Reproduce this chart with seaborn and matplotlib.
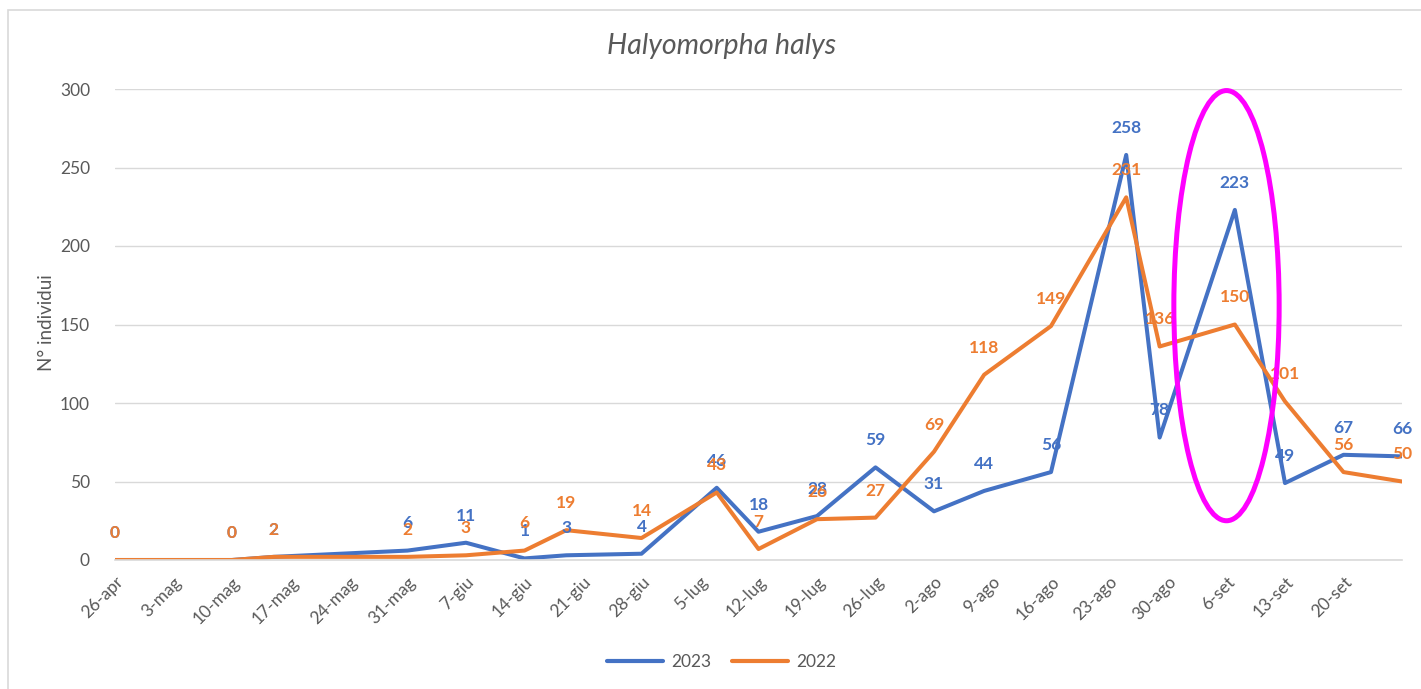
import pandas as pd
import matplotlib.pyplot as plt
from matplotlib.patches import Ellipse, Rectangle
from matplotlib.lines import Line2D
import seaborn as sns

# dati
date = ["2023-04-26", "2023-05-10", "2023-05-15", "2023-05-31", "2023-06-07",
        "2023-06-14", "2023-06-19", "2023-06-28", "2023-07-07", "2023-07-12",
        "2023-07-19", "2023-07-26", "2023-08-02", "2023-08-08", "2023-08-16",
        "2023-08-25", "2023-08-29", "2023-09-07", "2023-09-13", "2023-09-20",
        "2023-09-27"]
catture_2023 = [0, 0, 2, 6, 11, 1, 3, 4, 46, 18, 28, 59, 31, 44, 56, 258, 78, 223, 49, 67, 66]
catture_2022 = [0, 0, 2, 2, 3, 6, 19, 14, 43, 7, 26, 27, 69, 118, 149, 231, 136, 150, 101, 56, 50]
anni = ["2023", "2022"]
mesi = {4: "apr", 5: "mag", 6: "giu", 7: "lug", 8: "ago", 9: "set"}

colori = {"2023": "#4472C4", "2022": "#ED7D31"}
grigio = "#595959"

date = pd.to_datetime(date)
df = pd.concat([
    pd.DataFrame({"data": date, "n": catture_2023, "anno": "2023"}),
    pd.DataFrame({"data": date, "n": catture_2022, "anno": "2022"}),
])

sns.set_style("white")
plt.rcParams["font.family"] = ["Lato", "DejaVu Sans"]

W, H = 1421, 689
fig = plt.figure(figsize=(W / 100, H / 100), dpi=100)
ax = fig.add_axes([115 / W, 1 - 560 / H, (1402 - 115) / W, (560 - 89) / H])

sns.lineplot(data=df, x="data", y="n", hue="anno", hue_order=anni, palette=colori,
             linewidth=2.9, sort=False, legend=False, ax=ax,
             solid_joinstyle="round", solid_capstyle="round")

ax.set_ylim(0, 300)
ax.set_xlim(date[0], date[-1])
ax.set_yticks(range(0, 301, 50))
ax.yaxis.grid(True, color="#D9D9D9", linewidth=1)
ax.set_axisbelow(True)
for s in ["left", "top", "right"]:
    ax.spines[s].set_visible(False)
ax.spines["bottom"].set_color("#D9D9D9")
ax.spines["bottom"].set_linewidth(1.2)

# asse x settimanale con etichette italiane
tick = pd.date_range(date[0], date[-1], freq="7D")
ax.set_xticks(tick)
ax.set_xticklabels([f"{d.day}-{mesi[d.month]}" for d in tick[:-1]] + [""],
                   rotation=45, ha="right", rotation_mode="anchor")
ax.tick_params(axis="x", length=6, color="#D9D9D9", width=1, labelcolor=grigio,
               labelsize=12.5, pad=4)
ax.tick_params(axis="y", length=0, labelcolor=grigio, labelsize=12.5, pad=18)
ax.set_xlabel("")
ax.set_ylabel("")

# etichette dati (2022 sopra 2023)
for anno, valori in zip(anni, [catture_2023, catture_2022]):
    for d, v in zip(date, valori):
        ax.annotate(str(v), (d, v), xytext=(0, 19.5), textcoords="offset points",
                    ha="center", va="center", fontsize=12.5, fontweight="bold",
                    color=colori[anno], annotation_clip=False)

# evidenziazione magenta
i = catture_2023.index(223)
ax.add_patch(Ellipse((date[i] - pd.Timedelta(days=1), 162), width=12.6, height=274,
                     fill=False, edgecolor="#FF00FF", linewidth=3.6, clip_on=False,
                     zorder=5))

fig.text(722 / W, 1 - 46 / H, "Halyomorpha halys", style="italic", fontsize=20.5,
         color=grigio, ha="center", va="center")
fig.text(47 / W, 1 - 323 / H, "N° individui", rotation=90, fontsize=13.5,
         color=grigio, ha="center", va="center")

maniglie = [Line2D([], [], color=colori[a], linewidth=3) for a in anni]
fig.legend(maniglie, anni, loc="center", bbox_to_anchor=(722 / W, 1 - 662 / H),
           ncol=2, frameon=False, fontsize=12.5, labelcolor=grigio,
           handlelength=3.2, columnspacing=1.2, handletextpad=0.5)

fig.patches.append(Rectangle((8 / W, -0.01), 1.0, 1 - 10 / H + 0.01,
                             transform=fig.transFigure, fill=False,
                             edgecolor="#D9D9D9", linewidth=1.2))

fig.savefig("out.png", dpi=100)
